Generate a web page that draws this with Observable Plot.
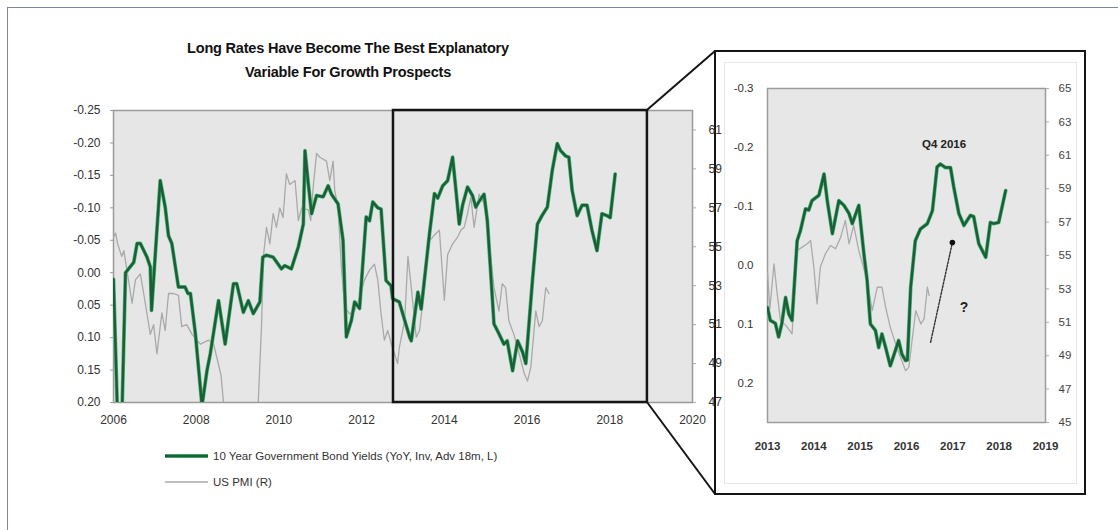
<!DOCTYPE html>
<html><head><meta charset="utf-8">
<script src="https://cdn.jsdelivr.net/npm/d3@7"></script>
<script src="https://cdn.jsdelivr.net/npm/@observablehq/plot@0.6"></script>
<style>
body{margin:0;background:#fff;font-family:"Liberation Sans",Arial,sans-serif;}
#root{position:relative;width:1118px;height:530px;overflow:hidden;background:#fff;}
#frame{position:absolute;left:7px;top:7px;width:1130px;height:540px;border:1.5px solid #7d879e;box-sizing:border-box;}
#title{position:absolute;left:148px;width:400px;top:36px;text-align:center;font-weight:bold;font-size:14.5px;line-height:24px;color:#111;letter-spacing:-0.2px;}
#insetBox{position:absolute;left:714px;top:50px;width:372px;height:445px;box-sizing:border-box;border:2.5px solid #151515;background:#fff;}
#insetInner{position:absolute;left:724px;top:62px;width:353px;height:422px;box-sizing:border-box;border:1px solid #e6e6e6;}
.abs{position:absolute;}
#legend{position:absolute;left:165px;top:443px;font-size:11.5px;color:#333;}
#legend div{display:flex;align-items:center;height:26px;}
#legend svg{margin-right:4px;}
</style></head><body><div id="root">
<div id="frame"></div>
<div id="title">Long Rates Have Become The Best Explanatory<br>Variable For Growth Prospects</div>
<div id="insetBox"></div>
<div id="insetInner"></div>
</div>
<script>
// ---------- Main chart data ----------
const yieldDates = [2006.00,2006.09,2006.21,2006.29,2006.49,2006.57,2006.65,2006.81,2006.89,2006.92,2007.13,2007.25,2007.33,2007.41,2007.57,2007.73,2007.80,2007.86,2007.98,2008.14,2008.26,2008.34,2008.54,2008.70,2008.90,2008.98,2009.14,2009.26,2009.38,2009.54,2009.61,2009.70,2009.86,2010.06,2010.14,2010.30,2010.47,2010.59,2010.63,2010.71,2010.79,2010.91,2011.07,2011.19,2011.27,2011.43,2011.55,2011.63,2011.75,2011.83,2011.95,2012.11,2012.19,2012.27,2012.39,2012.47,2012.59,2012.71,2012.75,2012.91,2013.16,2013.20,2013.36,2013.44,2013.64,2013.76,2013.84,2013.96,2014.08,2014.20,2014.28,2014.36,2014.44,2014.56,2014.68,2014.76,2014.84,2014.96,2015.04,2015.20,2015.32,2015.44,2015.52,2015.65,2015.77,2015.89,2015.97,2016.13,2016.25,2016.37,2016.49,2016.61,2016.73,2016.81,2016.93,2017.01,2017.09,2017.21,2017.33,2017.45,2017.57,2017.69,2017.81,2017.93,2018.01,2018.13];
const yieldValues = [0.01,0.205,0.205,0.000,-0.016,-0.045,-0.045,-0.024,-0.009,0.058,-0.142,-0.101,-0.057,-0.045,0.022,0.022,0.032,0.032,0.094,0.205,0.151,0.125,0.043,0.110,0.017,0.017,0.061,0.043,0.063,0.045,-0.024,-0.027,-0.024,-0.006,-0.011,-0.006,-0.040,-0.075,-0.188,-0.137,-0.091,-0.119,-0.117,-0.134,-0.121,-0.106,-0.050,0.099,0.074,0.045,0.055,-0.086,-0.080,-0.109,-0.100,-0.098,0.012,0.020,0.040,0.045,0.099,0.105,0.030,0.056,-0.060,-0.122,-0.115,-0.134,-0.142,-0.178,-0.127,-0.075,-0.104,-0.132,-0.119,-0.101,-0.110,-0.121,-0.080,0.079,0.094,0.110,0.105,0.151,0.105,0.122,0.140,0.012,-0.075,-0.089,-0.101,-0.158,-0.199,-0.188,-0.180,-0.178,-0.127,-0.088,-0.104,-0.104,-0.065,-0.034,-0.091,-0.088,-0.085,-0.152];

const pmiDates = [2006.00,2006.05,2006.10,2006.20,2006.25,2006.45,2006.53,2006.65,2006.73,2006.89,2006.97,2007.05,2007.17,2007.25,2007.33,2007.45,2007.57,2007.65,2007.77,2007.90,2008.10,2008.30,2008.42,2008.50,2008.60,2008.66,2008.75,2008.90,2009.10,2009.30,2009.45,2009.50,2009.58,2009.63,2009.70,2009.78,2009.86,2009.94,2010.02,2010.10,2010.18,2010.26,2010.39,2010.47,2010.55,2010.71,2010.77,2010.83,2010.91,2010.99,2011.15,2011.23,2011.31,2011.35,2011.43,2011.51,2011.59,2011.71,2011.83,2011.95,2012.07,2012.19,2012.31,2012.39,2012.47,2012.55,2012.63,2012.72,2012.87,2012.91,2013.04,2013.12,2013.20,2013.32,2013.40,2013.52,2013.64,2013.76,2013.88,2014.00,2014.08,2014.20,2014.32,2014.40,2014.48,2014.56,2014.64,2014.72,2014.84,2014.96,2015.08,2015.20,2015.32,2015.40,2015.48,2015.56,2015.68,2015.81,2015.93,2016.01,2016.09,2016.21,2016.29,2016.37,2016.45,2016.53];
const pmiValues = [55.5,55.7,55.15,54.5,54.8,52.1,53.3,53.6,52.6,50.5,51.0,49.5,51.6,50.7,52.6,52.6,52.5,50.9,51.0,50.5,50.0,50.2,50.0,49.3,48.4,47.0,44,38,35,40,45,47.0,51,54.6,56.0,55.15,56.7,56.0,57.0,56.5,58.75,58.2,58.4,56.35,57.0,56.9,56.35,58.1,59.8,59.6,59.4,58.4,59.4,57.9,57.0,53.95,51.9,51.55,51.7,52.4,53.3,53.8,54.1,53.3,51.55,50.2,50.7,50.0,49.0,49.8,51.2,54.5,52.9,50.35,50.7,52.9,55.3,55.6,55.85,52.25,54.6,55.15,55.5,55.85,56.0,56.7,57.55,56.0,57.7,57.2,55.3,52.9,51.7,53.1,52.9,51.2,50.5,49.5,48.5,48.1,48.8,51.7,50.9,51.2,52.9,52.6];

const mainYearTicks = [2006,2008,2010,2012,2014,2016,2018,2020];
const mainYieldTicks = [-0.25,-0.20,-0.15,-0.10,-0.05,0.00,0.05,0.10,0.15,0.20];
const mainPmiTicks = [47,49,51,53,55,57,59,61];
const mainYieldDomain = [0.20,-0.25];
const mainPmiDomain = [47,62];
const zoomYears = [2012.77, 2018.91];

// ---------- Inset data ----------
const insetYieldDates = [2013.00,2013.06,2013.17,2013.24,2013.31,2013.39,2013.46,2013.53,2013.64,2013.71,2013.82,2013.89,2013.96,2014.11,2014.22,2014.29,2014.40,2014.54,2014.65,2014.76,2014.83,2014.97,2015.08,2015.15,2015.22,2015.33,2015.40,2015.47,2015.55,2015.65,2015.76,2015.83,2015.90,2015.98,2016.02,2016.09,2016.19,2016.30,2016.45,2016.56,2016.66,2016.73,2016.84,2016.95,2017.02,2017.13,2017.24,2017.38,2017.45,2017.56,2017.71,2017.81,2017.88,2017.99,2018.14];
const insetYieldValues = [0.071,0.093,0.098,0.121,0.098,0.054,0.082,0.093,-0.042,-0.059,-0.096,-0.094,-0.110,-0.119,-0.155,-0.110,-0.054,-0.110,-0.102,-0.088,-0.071,-0.102,-0.020,0.025,0.099,0.110,0.139,0.116,0.139,0.170,0.144,0.127,0.150,0.161,0.160,0.037,-0.042,-0.062,-0.071,-0.093,-0.167,-0.172,-0.166,-0.166,-0.133,-0.088,-0.068,-0.085,-0.083,-0.037,-0.014,-0.073,-0.071,-0.073,-0.127];
const insetPmiDates = [2013.00,2013.05,2013.14,2013.21,2013.28,2013.40,2013.53,2013.64,2013.75,2013.86,2013.93,2014.00,2014.07,2014.14,2014.25,2014.36,2014.47,2014.58,2014.68,2014.76,2014.86,2014.97,2015.15,2015.26,2015.37,2015.47,2015.55,2015.65,2015.79,2015.90,2015.98,2016.05,2016.12,2016.20,2016.31,2016.38,2016.45,2016.49];
const insetPmiValues = [54.0,51.8,54.5,52.7,51.1,50.8,50.3,55.3,55.5,55.7,55.9,54.3,52.1,54.3,55.1,55.6,55.4,56.1,57.1,55.7,56.8,55.3,53.5,51.7,53.1,53.1,51.9,50.7,49.5,48.7,48.1,48.3,49.9,51.7,50.9,51.2,53.1,52.6];

const insetYearTicks = [2013,2014,2015,2016,2017,2018,2019];
const insetYieldTicks = [-0.3,-0.2,-0.1,0.0,0.1,0.2];
const insetPmiTicks = [45,47,49,51,53,55,57,59,61,63,65];
const insetYieldDomain = [0.266,-0.3];
const insetPmiDomain = [45,65];

const annotLabels = [{x:2016.81, y:-0.206, text:"Q4 2016", size:11.5}, {x:2017.24, y:0.071, text:"?", size:14}];
const annotArrow = [{x1:2016.52, y1:0.13, x2:2016.99, y2:-0.039}];

const legendItems = [
  {label:"10 Year Government Bond Yields (YoY, Inv, Adv 18m, L)", color:"#1c5e38", halo:"#4cb878"},
  {label:"US PMI (R)", color:"#a9a9a9", halo:null}
];

// ---------- helpers ----------
function mapper(pmiDom, yDom) {
  const to = p => yDom[0] + (p - pmiDom[0]) / (pmiDom[1] - pmiDom[0]) * (yDom[1] - yDom[0]);
  const from = v => pmiDom[0] + (v - yDom[0]) / (yDom[1] - yDom[0]) * (pmiDom[1] - pmiDom[0]);
  return {to, from};
}
const FONT = "Liberation Sans, Arial, sans-serif";
const GREEN = "#1c5e38", HALO = "#4cb878";
const mMap = mapper(mainPmiDomain, mainYieldDomain);
const iMap = mapper(insetPmiDomain, insetYieldDomain);

const yieldData = yieldDates.map((d,i)=>({x:d, y:yieldValues[i]}));
const pmiData = pmiDates.map((d,i)=>({x:d, y:mMap.to(pmiValues[i])}));
const insetYieldData = insetYieldDates.map((d,i)=>({x:d, y:insetYieldValues[i]}));
const insetPmiData = insetPmiDates.map((d,i)=>({x:d, y:iMap.to(insetPmiValues[i])}));

const root = document.getElementById("root");

// ---------- Inset chart ----------
const inset = Plot.plot({
  width: 370, height: 443,
  marginLeft: 52, marginRight: 40, marginTop: 37, marginBottom: 72,
  x: {domain:[2013,2019]},
  y: {domain: insetYieldDomain},
  style: {fontFamily: FONT, fontSize: "11.5px", color: "#222", background: "transparent", overflow: "visible"},
  marks: [
    Plot.frame({fill:"#e7e7e7", stroke:"#9c9c9c", strokeWidth:1.5}),
    Plot.axisX({ticks: insetYearTicks, tickFormat: d=>String(d), tickSize:0, tickPadding:19, label:null, fontWeight:"bold", fill:"#333"}),
    Plot.axisY({ticks: insetYieldTicks, tickFormat: d=>d.toFixed(1), tickSize:0, tickPadding:14, label:null, fill:"#333"}),
    Plot.axisY({anchor:"right", ticks: insetPmiTicks.map(iMap.to), tickFormat: v=>String(Math.round(iMap.from(v))), tickSize:3, tickPadding:10, label:null, fill:"#444", stroke:"#aaa"}),
    Plot.line(insetPmiData, {x:"x", y:"y", stroke:"#ababab", strokeWidth:1.3, clip:true}),
    Plot.line(insetYieldData, {x:"x", y:"y", stroke:HALO, strokeWidth:3.8, clip:true}),
    Plot.line(insetYieldData, {x:"x", y:"y", stroke:GREEN, strokeWidth:2.5, clip:true}),
    Plot.arrow(annotArrow, {x1:"x1", y1:"y1", x2:"x2", y2:"y2", stroke:"#333", strokeWidth:1.4, strokeDasharray:"2,1.5", headLength:0}),
    Plot.dot(annotArrow, {x:"x2", y:"y2", r:2.8, fill:"#111", stroke:null}),
    Plot.text(annotLabels, {x:"x", y:"y", text:"text", fontSize:d=>d.size, fontWeight:"bold", fill:"#222"})
  ]
});
inset.classList.add("abs");
inset.style.left = "715px"; inset.style.top = "51px";
root.appendChild(inset);

// ---------- Main chart ----------
const main = Plot.plot({
  width: 740, height: 440,
  marginLeft: 113, marginRight: 48, marginTop: 110, marginBottom: 38,
  x: {domain:[2006,2020]},
  y: {domain: mainYieldDomain},
  style: {fontFamily: FONT, fontSize: "12px", color: "#222", background: "transparent", overflow: "visible"},
  marks: [
    Plot.frame({fill:"#e6e6e6", stroke:"#9a9a9a", strokeWidth:1.5}),
    Plot.axisX({ticks: mainYearTicks, tickFormat: d=>String(d), tickSize:0, tickPadding:13, label:null, fill:"#333"}),
    Plot.axisY({ticks: mainYieldTicks, tickFormat: d=>d.toFixed(2), tickSize:3, tickPadding:10, label:null, fill:"#333", stroke:"#999"}),
    Plot.axisY({anchor:"right", ticks: mainPmiTicks.map(mMap.to), tickFormat: v=>String(Math.round(mMap.from(v))), tickSize:3, tickPadding:13, label:null, fill:"#333", stroke:"#aaa"}),
    Plot.line(pmiData, {x:"x", y:"y", stroke:"#a9a9a9", strokeWidth:1.3, clip:true}),
    Plot.line(yieldData, {x:"x", y:"y", stroke:HALO, strokeWidth:3.8, clip:true}),
    Plot.line(yieldData, {x:"x", y:"y", stroke:GREEN, strokeWidth:2.5, clip:true}),
    Plot.rect([{x1:zoomYears[0], x2:zoomYears[1]}], {x1:"x1", x2:"x2", y1:()=>mainYieldDomain[0], y2:()=>mainYieldDomain[1], fill:"none", stroke:"#151515", strokeWidth:2.5})
  ]
});
main.classList.add("abs");
main.style.left = "0px"; main.style.top = "0px";
root.appendChild(main);

// ---------- connectors from zoom box to inset ----------
const sx = main.scale("x"), sy = main.scale("y");
const bx = sx.apply(zoomYears[1]);
const byTop = sy.apply(mainYieldDomain[1]), byBot = sy.apply(mainYieldDomain[0]);
const ns = "http://www.w3.org/2000/svg";
const conn = document.createElementNS(ns, "svg");
conn.setAttribute("width", 1118); conn.setAttribute("height", 530);
conn.setAttribute("class", "abs"); conn.style.left = "0px"; conn.style.top = "0px";
const insetEl = document.getElementById("insetBox");
const ix = insetEl.offsetLeft + 1, iyTop = insetEl.offsetTop + 1, iyBot = insetEl.offsetTop + insetEl.offsetHeight - 1;
[[bx, byTop, ix, iyTop],[bx, byBot, ix, iyBot]].forEach(([x1,y1,x2,y2])=>{
  const l = document.createElementNS(ns, "line");
  l.setAttribute("x1", x1); l.setAttribute("y1", y1); l.setAttribute("x2", x2); l.setAttribute("y2", y2);
  l.setAttribute("stroke", "#151515"); l.setAttribute("stroke-width", 2);
  conn.appendChild(l);
});
root.appendChild(conn);

// ---------- legend ----------
const legend = document.createElement("div");
legend.id = "legend";
legendItems.forEach(it=>{
  const row = document.createElement("div");
  const halo = it.halo ? `<line x1="0" y1="5" x2="43" y2="5" stroke="${it.halo}" stroke-width="3.8"/>` : "";
  row.innerHTML = `<svg width="44" height="10">${halo}<line x1="0" y1="5" x2="43" y2="5" stroke="${it.color}" stroke-width="${it.halo?2.5:1.5}"/></svg><span>${it.label}</span>`;
  legend.appendChild(row);
});
root.appendChild(legend);
</script></body></html>
